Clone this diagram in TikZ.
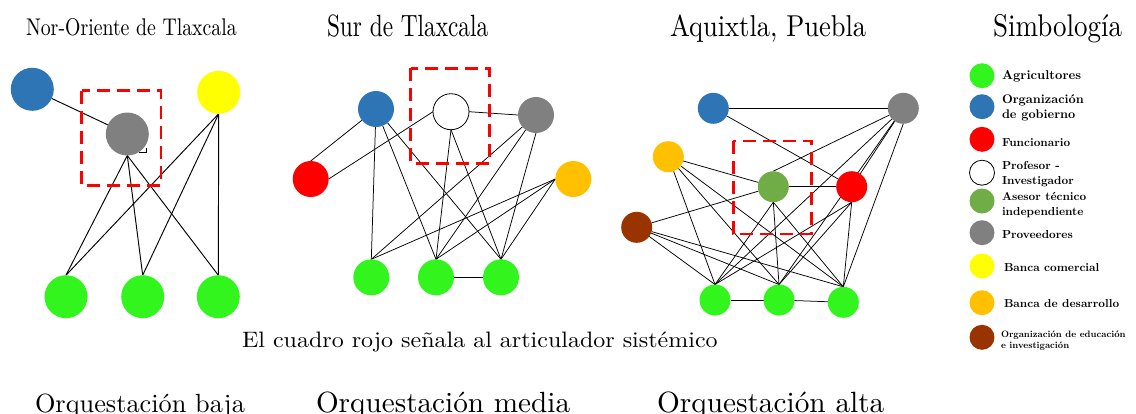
\documentclass[tikz,border=0pt]{standalone}
\usepackage{fontspec}
\setmainfont{lmroman10-regular.otf}[BoldFont=lmroman10-bold.otf, ItalicFont=lmroman10-italic.otf]
\usepackage{graphicx}
\usetikzlibrary{backgrounds}
\definecolor{cgreen}{RGB}{51,245,30}
\definecolor{cblue}{RGB}{46,117,182}
\definecolor{cred}{RGB}{255,0,0}
\definecolor{casesor}{RGB}{112,173,71}
\definecolor{cgray}{RGB}{128,128,128}
\definecolor{cyellow}{RGB}{255,255,0}
\definecolor{corange}{RGB}{255,192,0}
\definecolor{cbrown}{RGB}{153,51,0}
\newcommand{\sttxt}[3]{\scalebox{1}[#2]{\fontsize{#1}{#1}\selectfont #3}}
\newcommand{\twol}[2]{\begin{tabular}[t]{@{}l@{}}#1\\#2\end{tabular}}
\tikzset{
  actor/.style={circle, inner sep=0pt, outer sep=0pt},
  bigact/.style={actor, minimum size=43pt},
  midact/.style={actor, minimum size=36pt},
  smallact/.style={actor, minimum size=31pt},
  legact/.style={actor, minimum size=25pt},
  hollow/.style={fill=white, draw=black, line width=0.8pt},
  link/.style={draw=black, line width=0.75pt},
  thicklink/.style={draw=black, line width=0.95pt},
  artic/.style={draw=cred, line width=2.6pt, dash pattern=on 13pt off 7pt},
  txt/.style={anchor=base west, inner sep=0pt, outer sep=0pt},
  leglabel/.style={txt, font=\fontsize{11.6}{15}\selectfont\bfseries},
  leglabelbig/.style={txt, font=\fontsize{12.5}{15}\selectfont\bfseries},
  leglabelsmall/.style={txt, font=\fontsize{9.3}{11}\selectfont\bfseries}
}
\begin{document}
\begin{tikzpicture}[x=1pt, y=-1pt]
\useasboundingbox (0,0) rectangle (1136,413);

% ---------- titles ----------
\node[txt] (t1) at (26,35) {\sttxt{19.8}{1.22}{Nor-Oriente de Tlaxcala}};
\node[txt] (t2) at (327,36.7) {\sttxt{23.3}{1.32}{Sur de Tlaxcala}};
\node[txt] (t3) at (670,36.7) {\sttxt{26.5}{1.14}{Aquixtla, Puebla}};
\node[txt] (t4) at (993,36.7) {\sttxt{27}{1.16}{Simbología}};
\node[txt] (cap) at (242,347) {\sttxt{24}{0.93}{El cuadro rojo señala al articulador sistémico}};
\node[txt] (o1) at (35,412.5) {\sttxt{26.3}{1}{Orquestación baja}};
\node[txt] (o2) at (316,412.5) {\sttxt{29.2}{1}{Orquestación media}};
\node[txt] (o3) at (657,412.5) {\sttxt{29.3}{1}{Orquestación alta}};

% ---------- diagram 1 ----------
\node[bigact, fill=cblue] (A1) at (32.3,89.3) {};
\node[bigact, fill=cgray] (P1) at (127.3,134) {};
\node[bigact, fill=cyellow] (Y1) at (218.7,92.3) {};
\node[bigact, fill=cgreen] (F1a) at (66,296.7) {};
\node[bigact, fill=cgreen] (F1b) at (142.7,296.7) {};
\node[bigact, fill=cgreen] (F1c) at (218.3,296.7) {};

% ---------- diagram 2 ----------
\node[midact, fill=cblue] (B2) at (376,109) {};
\node[midact, hollow] (W2) at (451,111.7) {};
\node[midact, fill=cgray] (P2) at (536,115) {};
\node[midact, fill=cred] (R2) at (310.7,179) {};
\node[midact, fill=corange] (O2) at (573.3,179) {};
\node[midact, fill=cgreen] (F2a) at (371.3,277.3) {};
\node[midact, fill=cgreen] (F2b) at (436,277.3) {};
\node[midact, fill=cgreen] (F2c) at (501,277.3) {};

% ---------- diagram 3 ----------
\node[smallact, fill=cblue] (B3) at (713.3,108.3) {};
\node[smallact, fill=cgray] (P3) at (903.3,108.3) {};
\node[smallact, fill=corange] (O3) at (668.3,156.7) {};
\node[smallact, fill=casesor] (S3) at (773.3,186.7) {};
\node[smallact, fill=cred] (R3) at (851.7,186.7) {};
\node[smallact, fill=cbrown] (K3) at (636.7,227.3) {};
\node[smallact, fill=cgreen] (F3a) at (715,300) {};
\node[smallact, fill=cgreen] (F3b) at (779,300) {};
\node[smallact, fill=cgreen] (F3c) at (843.3,302.3) {};

% ---------- connectors ----------
\begin{scope}[on background layer]
  % diagram 1
  \draw[thicklink] (A1) -- (P1);
  \foreach \g in {F1a,F1b,F1c} {
    \draw[thicklink] (P1.south) -- (\g.north);
    \draw[thicklink] (Y1.south) -- (\g.north);
  }
  \draw[thicklink] (138.5,152.5) -- (146,152.5) -- (146,148);
  % diagram 2
  \draw[link] (B2) -- (R2.north);
  \draw[link] (R2.east) -- (W2.west);
  \draw[link] (W2.east) -- (P2.west);
  \foreach \g in {F2a,F2b,F2c} {
    \draw[link] (B2) -- (\g.north);
    \draw[link] (O2.west) -- (\g.north);
  }
  \draw[link] (W2.south) -- (F2b.north);
  \draw[link] (W2.south) -- (F2c.north);
  \draw[link] (P2) -- (F2a.north);
  \draw[link] (P2) -- (F2b.north);
  \draw[link] (P2.south) -- (F2c.north);
  \draw[link] (F2b) -- (F2c);
  % diagram 3
  \draw[link] (B3) -- (P3);
  \draw[link] (B3) -- (R3);
  \draw[link] (O3) -- (S3);
  \draw[link] (K3) -- (S3);
  \draw[link] (S3) -- (R3);
  \draw[link] (P3) -- (S3.north);
  \draw[link] (P3) -- (R3);
  \draw[link] (P3) -- (F3a.north);
  \draw[link] (P3) -- (F3b.north);
  \draw[link] (P3.south) -- (F3c.north);
  \foreach \g in {F3a,F3b,F3c} {
    \draw[link] (O3) -- (\g.north);
    \draw[link] (K3) -- (\g.north);
    \draw[link] (S3.south) -- (\g.north);
    \draw[link] (R3.south) -- (\g.north);
  }
  \draw[link] (F3a) -- (F3b);
  \draw[link] (F3b) -- (F3c);
\end{scope}

% ---------- articulator boxes ----------
\draw[artic] (81.7,90.7) rectangle (161,185.3);
\draw[artic] (410.7,68.3) rectangle (489.3,163.3);
\draw[artic] (733.3,141) rectangle (811.7,234);

% ---------- legend ----------
\node[legact, fill=cgreen] (L1) at (982,75.7) {};
\node[legact, fill=cblue] (L2) at (982,106.7) {};
\node[legact, fill=cred] (L3) at (982,139.3) {};
\node[legact, hollow] (L4) at (982,172.7) {};
\node[legact, fill=casesor] (L5) at (982,201) {};
\node[legact, fill=cgray] (L6) at (982,232.7) {};
\node[legact, fill=cyellow] (L7) at (982,266) {};
\node[legact, fill=corange] (L8) at (982,302.7) {};
\node[legact, fill=cbrown] (L9) at (982,337.3) {};

\node[leglabelbig, font=\fontsize{12.8}{15}\selectfont\bfseries] (T1) at (1002,79) {Agricultores};
\node[leglabelbig] (T2) at (1002,103.5) {\twol{Organización}{de gobierno}};
\node[leglabel] (T3) at (1002,146.5) {Funcionario};
\node[leglabel] (T4) at (1002,169) {\twol{Profesor -}{Investigador}};
\node[leglabel] (T5) at (1002,200.5) {\twol{Asesor técnico}{independiente}};
\node[leglabel] (T6) at (1002,238) {Proveedores};
\node[leglabel] (T7) at (1004,271) {Banca comercial};
\node[leglabel] (T8) at (1004,307) {Banca de desarrollo};
\node[leglabelsmall] (T9) at (1001,337) {\twol{Organización de educación}{e investigación}};
\end{tikzpicture}
\end{document}
